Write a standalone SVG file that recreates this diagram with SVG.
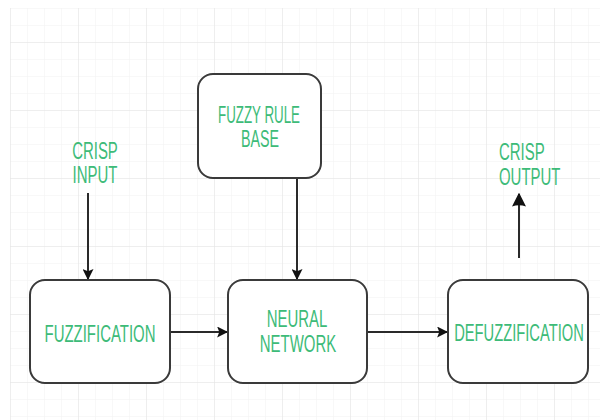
<svg xmlns="http://www.w3.org/2000/svg" width="600" height="420" viewBox="0 0 600 420">
<style>
.box{fill:#fff;stroke:#3a3a3a;stroke-width:2}
.lbl{font-family:"Liberation Sans",Arial,sans-serif;font-size:23px;fill:#3dbb78;text-anchor:middle}
.lft{text-anchor:start}
.edge{stroke:#2a2a2a;stroke-width:2;fill:none}
</style>
<defs>
<marker id="ah" viewBox="0 0 10 10" refX="9" refY="5" markerWidth="5.5" markerHeight="5.5" orient="auto" markerUnits="strokeWidth">
<path d="M0,0 L10,5 L0,10 L2,5 Z" fill="#111"/>
</marker>
<marker id="ahb" viewBox="0 0 10 10" refX="9" refY="5" markerWidth="7" markerHeight="7" orient="auto" markerUnits="strokeWidth">
<path d="M0,0 Q2,5 0,10 L10,5 Z" fill="#111"/>
</marker>
<pattern id="minor" x="10" y="8" width="17" height="17" patternUnits="userSpaceOnUse">
<path d="M17,0 L0,0 L0,17" fill="none" stroke="#f1f1f1" stroke-width="1"/>
</pattern>
<pattern id="major" x="10" y="42" width="68" height="68" patternUnits="userSpaceOnUse">
<path d="M68,0 L0,0 L0,68" fill="none" stroke="#e4e4e4" stroke-width="1"/>
</pattern>
</defs>
<rect width="600" height="420" fill="#fff"/>
<rect x="10" y="8" width="590" height="412" fill="url(#minor)"/>
<rect x="10" y="8" width="590" height="412" fill="url(#major)"/>

<g id="connectors">
<line class="edge" x1="88" y1="193" x2="88" y2="279" marker-end="url(#ah)"/>
<line class="edge" x1="297" y1="178" x2="297" y2="279" marker-end="url(#ah)"/>
<line class="edge" x1="170" y1="332" x2="227" y2="332" marker-end="url(#ah)"/>
<line class="edge" x1="367" y1="332" x2="447" y2="332" marker-end="url(#ah)"/>
<line class="edge" x1="519" y1="258" x2="519" y2="194" marker-end="url(#ahb)"/>
</g>

<g id="crisp-input">
<text class="lbl" transform="translate(95,159) scale(0.65,1)">CRISP</text>
<text class="lbl" transform="translate(95,183) scale(0.65,1)">INPUT</text>
</g>
<g id="crisp-output">
<text class="lbl lft" transform="translate(499,160) scale(0.65,1)">CRISP</text>
<text class="lbl lft" transform="translate(499,185) scale(0.65,1)">OUTPUT</text>
</g>
<g id="fuzzy-rule-base">
<rect class="box" x="198" y="74" width="123" height="104" rx="15"/>
<text class="lbl" transform="translate(259,123) scale(0.58,1)">FUZZY RULE</text>
<text class="lbl" transform="translate(260,147) scale(0.62,1)">BASE</text>
</g>
<g id="fuzzification">
<rect class="box" x="30" y="280" width="140" height="103" rx="15"/>
<text class="lbl" transform="translate(100,342) scale(0.65,1)">FUZZIFICATION</text>
</g>
<g id="neural-network">
<rect class="box" x="228" y="280" width="139" height="103" rx="15"/>
<text class="lbl" transform="translate(297,327) scale(0.65,1)">NEURAL</text>
<text class="lbl" transform="translate(298,352) scale(0.65,1)">NETWORK</text>
</g>
<g id="defuzzification">
<rect class="box" x="448" y="280" width="140" height="103" rx="15"/>
<text class="lbl" transform="translate(519,341) scale(0.64,1)">DEFUZZIFICATION</text>
</g>
</svg>
